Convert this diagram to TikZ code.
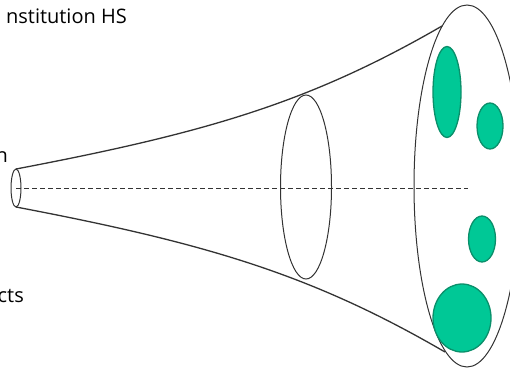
\documentclass[tikz,border=0pt]{standalone}
\usepackage{fontspec}
\setmainfont{Open Sans}
\definecolor{horngray}{HTML}{333333}
\definecolor{cellfill}{HTML}{00C896}
\definecolor{celledge}{HTML}{0A8F6A}
\begin{document}
\begin{tikzpicture}[x=1pt, y=-1pt, every node/.style={font=\fontsize{20}{24}\selectfont, inner sep=0pt},
	rim/.style={draw=horngray, line width=1pt},
	cell/.style={fill=cellfill, draw=celledge, line width=1.3pt}]
	\useasboundingbox (0,0) rectangle (510,369);
	
	% labels, cut at the left edge
	\node[anchor=base east] (lblTop) at (127,24) {nstitution HS};
	\node[anchor=base east] (lblMid) at (8,162) {n};
	\node[anchor=base east] (lblLow) at (24,302) {cts};
	
	% horn outline
	\draw[horngray, line width=1.3pt] (16,169) .. controls (205,133) and (309,103) .. (442,26);
	\draw[horngray, line width=1.3pt] (16,207) .. controls (205,243) and (311,274) .. (445,352);
	
	% rims
	\draw[rim] (16,188) ellipse [x radius=5, y radius=19];
	\draw[rim] (306,187) ellipse [x radius=25.5, y radius=92];
	\draw[rim] (467,186) ellipse [x radius=53, y radius=181];
	
	% axis
	\draw[horngray, line width=0.9pt, dash pattern=on 5pt off 3pt] (16,188) -- (468,188);
	
	% green cells
	\draw[cell] (447,92) ellipse [x radius=14, y radius=45.5];
	\draw[cell] (490,126) ellipse [x radius=13, y radius=23];
	\draw[cell] (482,239) ellipse [x radius=13.5, y radius=23];
	\draw[cell] (462,318) ellipse [x radius=29, y radius=34];
\end{tikzpicture}
\end{document}
